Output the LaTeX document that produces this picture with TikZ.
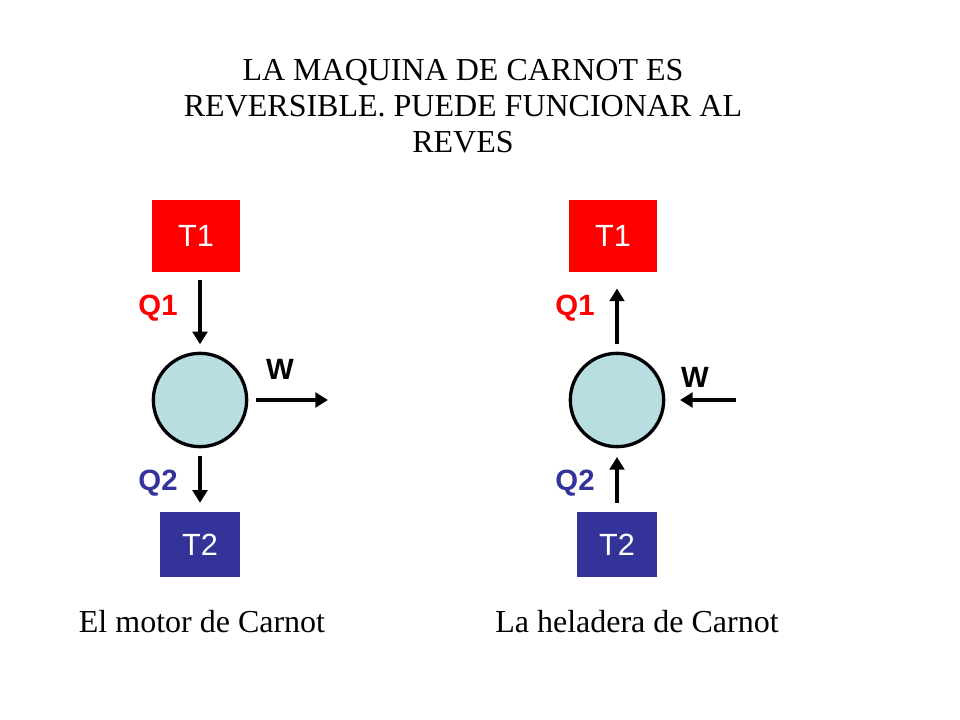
\documentclass[tikz,border=0pt]{standalone}
\usepackage{fontspec}
\setmainfont{Liberation Serif}
\newfontfamily\arialfont{Liberation Sans}
\usetikzlibrary{arrows.meta}

\definecolor{hotred}{RGB}{255,0,0}
\definecolor{coldblue}{RGB}{51,51,153}
\definecolor{enginefill}{RGB}{185,222,226}

\tikzset{every picture/.style={line width=0.75pt}}
\tikzset{
  hotbox/.style={draw=none,fill=hotred,minimum width=66pt,minimum height=54pt,font=\arialfont\fontsize{23}{27}\selectfont,text=white},
  coldbox/.style={draw=none,fill=coldblue,minimum width=60pt,minimum height=48.75pt,font=\arialfont\fontsize{23}{27}\selectfont,text=white},
  engine/.style={circle,draw=black,line width=2.5pt,fill=enginefill,minimum size=70pt,inner sep=0pt},
  flow/.style={line width=3pt,-{Triangle[length=9.5pt,width=11pt]}},
  qlabel/.style={font=\arialfont\bfseries\fontsize{22}{26}\selectfont,inner sep=0.75pt},
  caption/.style={font=\fontsize{24}{27}\selectfont,inner sep=0.75pt}
}

\begin{document}
\begin{tikzpicture}[x=0.75pt,y=0.75pt,yscale=-1,xscale=1]
\useasboundingbox (0,0) rectangle (960,720);

% Title
\node [caption,align=center] (title) at (463,106) {LA MAQUINA DE CARNOT ES\\REVERSIBLE. PUEDE FUNCIONAR AL\\REVES};

%Motor (left)
\node [hotbox] (t1l) at (196,236) {T1};
\node [engine] (cl) at (200,400) {};
\node [coldbox] (t2l) at (200,544.5) {T2};
\coordinate (wl) at (328,400);
\draw [flow,shorten <=6pt,shorten >=5.5pt] (t1l.south -| cl) -- (cl.north);
\draw [flow,shorten <=6pt,shorten >=6.5pt] (cl.south) -- (t2l.north);
\draw [flow,shorten <=6pt] (cl.east) -- (wl);
% Text Node
\node [qlabel,text=hotred] (q1l) at (158,308) {Q1};
\node [qlabel,text=coldblue] (q2l) at (158,483) {Q2};
\node [qlabel] (wlab) at (280,369) {W};

%Heladera (right)
\node [hotbox] (t1r) at (613,236) {T1};
\node [engine] (cr) at (617,400) {};
\node [coldbox] (t2r) at (617,544.5) {T2};
\coordinate (wr) at (736,400);
\draw [flow,shorten <=6pt,shorten >=12pt] (cr.north) -- (t1r.south -| cr);
\draw [flow,shorten <=6.5pt,shorten >=6.5pt] (t2r.north) -- (cr.south);
\draw [flow,shorten >=11pt] (wr) -- (cr.east);
% Text Node
\node [qlabel,text=hotred] (q1r) at (575,308) {Q1};
\node [qlabel,text=coldblue] (q2r) at (575,483) {Q2};
\node [qlabel] (wrlab) at (695,377) {W};

% Captions
\node [caption] (motor) at (202,622) {El motor de Carnot};
\node [caption] (heladera) at (637,622) {La heladera de Carnot};

\end{tikzpicture}
\end{document}
